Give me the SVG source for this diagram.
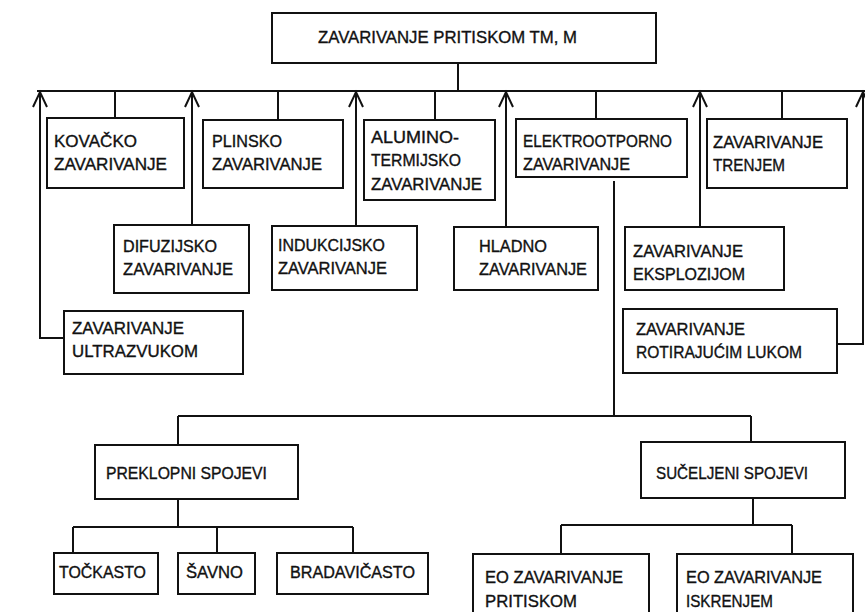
<svg xmlns="http://www.w3.org/2000/svg" width="865" height="612" viewBox="0 0 865 612">
<style>
.box{fill:#fff;stroke:#111;stroke-width:2}
.ln{fill:none;stroke:#111;stroke-width:2}
text{font-family:"Liberation Sans",Arial,sans-serif;font-size:16.5px;fill:#111;stroke:#111;stroke-width:0.35}
</style>
<defs>
<marker id="ah" markerUnits="userSpaceOnUse" orient="auto" refX="0" refY="0" markerWidth="20" markerHeight="20" overflow="visible">
<path d="M -15 -7 L 0 0 L -15 7" fill="none" stroke="#111" stroke-width="2"/>
</marker>
</defs>
<rect width="865" height="612" fill="#fff"/>
<g id="connectors">
<path class="ln" d="M 458 63 V 91 M 37 91 H 865"/>
<path class="ln" d="M 115 91 V 118 M 278 91 V 120 M 435 91 V 120 M 596 91 V 119 M 782 91 V 119"/>
<path class="ln" marker-end="url(#ah)" d="M 64 338 H 40 V 92"/>
<path class="ln" marker-end="url(#ah)" d="M 192 225 V 92"/>
<path class="ln" marker-end="url(#ah)" d="M 356 226 V 92"/>
<path class="ln" marker-end="url(#ah)" d="M 506 227 V 92"/>
<path class="ln" marker-end="url(#ah)" d="M 700 227 V 92"/>
<path class="ln" marker-end="url(#ah)" d="M 837 344 H 863 V 92"/>
<path class="ln" d="M 614 181 V 416 M 178 416 H 751 M 178 416 V 445 M 751 416 V 442"/>
<path class="ln" d="M 178 499 V 527 M 73 527 H 353 M 73 527 V 553 M 217 527 V 553 M 353 527 V 553"/>
<path class="ln" d="M 753 498 V 525 M 561 525 H 792 M 561 525 V 554 M 792 525 V 554"/>
</g>
<g id="n-root"><rect class="box" x="272" y="13" width="384" height="50"/><text x="318" y="43" textLength="259" lengthAdjust="spacingAndGlyphs">ZAVARIVANJE PRITISKOM TM, M</text></g>
<g id="n-kovacko"><rect class="box" x="47" y="118" width="137" height="70"/><text x="54" y="147" textLength="83" lengthAdjust="spacingAndGlyphs">KOVAČKO</text><text x="54" y="170" textLength="113" lengthAdjust="spacingAndGlyphs">ZAVARIVANJE</text></g>
<g id="n-plinsko"><rect class="box" x="203" y="120" width="140" height="68"/><text x="212" y="147" textLength="70" lengthAdjust="spacingAndGlyphs">PLINSKO</text><text x="212" y="170" textLength="110" lengthAdjust="spacingAndGlyphs">ZAVARIVANJE</text></g>
<g id="n-alumino"><rect class="box" x="364" y="120" width="131" height="80"/><text x="371" y="143" textLength="88" lengthAdjust="spacingAndGlyphs">ALUMINO-</text><text x="371" y="166" textLength="90" lengthAdjust="spacingAndGlyphs">TERMIJSKO</text><text x="371" y="190" textLength="111" lengthAdjust="spacingAndGlyphs">ZAVARIVANJE</text></g>
<g id="n-elektro"><rect class="box" x="516" y="119" width="171" height="58"/><text x="523" y="147" textLength="149" lengthAdjust="spacingAndGlyphs">ELEKTROOTPORNO</text><text x="523" y="170" textLength="107" lengthAdjust="spacingAndGlyphs">ZAVARIVANJE</text></g>
<g id="n-trenjem"><rect class="box" x="707" y="119" width="140" height="69"/><text x="713" y="148" textLength="110" lengthAdjust="spacingAndGlyphs">ZAVARIVANJE</text><text x="713" y="171" textLength="72" lengthAdjust="spacingAndGlyphs">TRENJEM</text></g>
<g id="n-difuzijsko"><rect class="box" x="114" y="225" width="135" height="68"/><text x="123" y="252" textLength="94" lengthAdjust="spacingAndGlyphs">DIFUZIJSKO</text><text x="123" y="275" textLength="110" lengthAdjust="spacingAndGlyphs">ZAVARIVANJE</text></g>
<g id="n-indukcijsko"><rect class="box" x="272" y="226" width="145" height="64"/><text x="278" y="251" textLength="107" lengthAdjust="spacingAndGlyphs">INDUKCIJSKO</text><text x="278" y="274" textLength="109" lengthAdjust="spacingAndGlyphs">ZAVARIVANJE</text></g>
<g id="n-hladno"><rect class="box" x="454" y="227" width="144" height="63"/><text x="479" y="252" textLength="68" lengthAdjust="spacingAndGlyphs">HLADNO</text><text x="479" y="275" textLength="108" lengthAdjust="spacingAndGlyphs">ZAVARIVANJE</text></g>
<g id="n-eksplozijom"><rect class="box" x="625" y="227" width="159" height="63"/><text x="633" y="257" textLength="110" lengthAdjust="spacingAndGlyphs">ZAVARIVANJE</text><text x="633" y="280" textLength="112" lengthAdjust="spacingAndGlyphs">EKSPLOZIJOM</text></g>
<g id="n-ultrazvukom"><rect class="box" x="64" y="311" width="179" height="63"/><text x="72" y="334" textLength="112" lengthAdjust="spacingAndGlyphs">ZAVARIVANJE</text><text x="72" y="357" textLength="126" lengthAdjust="spacingAndGlyphs">ULTRAZVUKOM</text></g>
<g id="n-rotirajucim"><rect class="box" x="623" y="309" width="214" height="64"/><text x="636" y="335" textLength="109" lengthAdjust="spacingAndGlyphs">ZAVARIVANJE</text><text x="636" y="358" textLength="166" lengthAdjust="spacingAndGlyphs">ROTIRAJUĆIM LUKOM</text></g>
<g id="n-preklopni"><rect class="box" x="95" y="445" width="203" height="54"/><text x="106" y="479" textLength="161" lengthAdjust="spacingAndGlyphs">PREKLOPNI SPOJEVI</text></g>
<g id="n-suceljeni"><rect class="box" x="641" y="442" width="204" height="56"/><text x="656" y="479" textLength="152" lengthAdjust="spacingAndGlyphs">SUČELJENI SPOJEVI</text></g>
<g id="n-tockasto"><rect class="box" x="54" y="553" width="104" height="41"/><text x="59" y="578" textLength="87" lengthAdjust="spacingAndGlyphs">TOČKASTO</text></g>
<g id="n-savno"><rect class="box" x="178" y="553" width="77" height="41"/><text x="186" y="578" textLength="57" lengthAdjust="spacingAndGlyphs">ŠAVNO</text></g>
<g id="n-bradavicasto"><rect class="box" x="277" y="553" width="151" height="41"/><text x="290" y="578" textLength="125" lengthAdjust="spacingAndGlyphs">BRADAVIČASTO</text></g>
<g id="n-eo-pritiskom"><rect class="box" x="473" y="554" width="176" height="70"/><text x="485" y="583" textLength="138" lengthAdjust="spacingAndGlyphs">EO ZAVARIVANJE</text><text x="485" y="607" textLength="92" lengthAdjust="spacingAndGlyphs">PRITISKOM</text></g>
<g id="n-eo-iskrenjem"><rect class="box" x="677" y="554" width="176" height="70"/><text x="686" y="583" textLength="136" lengthAdjust="spacingAndGlyphs">EO ZAVARIVANJE</text><text x="686" y="607" textLength="87" lengthAdjust="spacingAndGlyphs">ISKRENJEM</text></g>
</svg>
